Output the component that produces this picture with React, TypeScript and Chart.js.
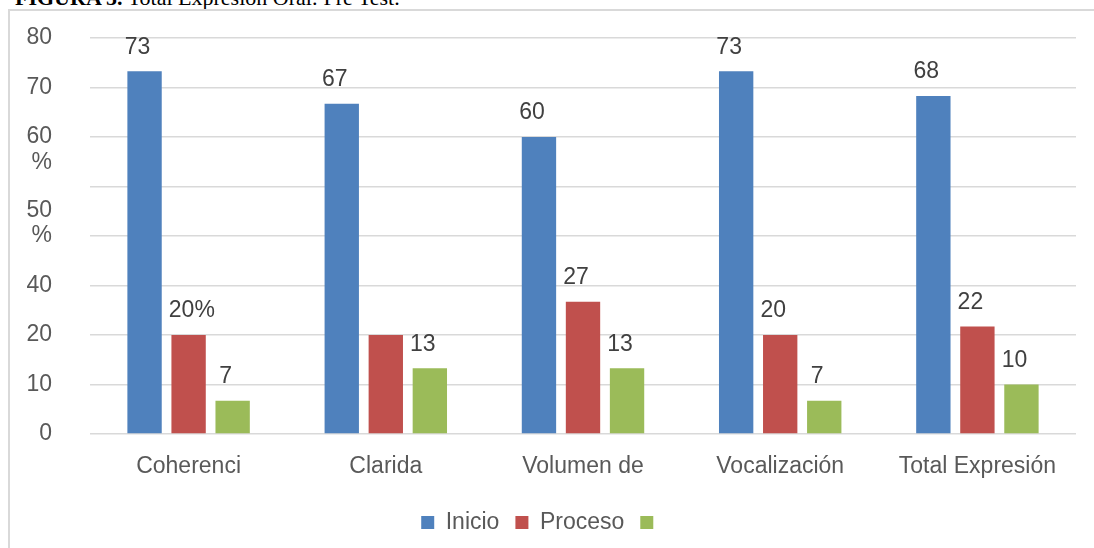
import React, { useEffect, useRef } from "react";
import { Chart, registerables } from "chart.js";

Chart.register(...registerables);

const categories = ["Coherenci", "Clarida", "Volumen de", "Vocalización", "Total Expresión"];
const seriesNames = ["Inicio", "Proceso", ""];
const inicio = [73.3, 66.7, 60, 73.3, 68.3];
const proceso = [20, 20, 26.7, 20, 21.7];
const tercero = [6.7, 13.3, 13.3, 6.7, 10];
const inicioLabels = ["73", "67", "60", "73", "68"];
const procesoLabels = ["20%", "", "27", "20", "22"];
const terceroLabels = ["7", "13", "13", "7", "10"];
const yTickLabels: (string | string[])[] = ["0", "10", "20", "40", ["50", "%", ""], "", ["", "60", "%"], "70", "80"];
const colors = ["#4f81bd", "#c0504d", "#9bbb59"];

const FAMILY = '"Liberation Sans", Arial, sans-serif';
const barLabelSets = [inicioLabels, procesoLabels, terceroLabels];

const barLabelPlugin = {
  id: "barLabels",
  afterDatasetsDraw(chart: any) {
    const ctx = chart.ctx;
    ctx.save();
    ctx.font = `23px ${FAMILY}`;
    ctx.fillStyle = "#404040";
    ctx.textBaseline = "middle";
    ctx.textAlign = "left";
    chart.data.datasets.forEach((_ds: any, di: number) => {
      const meta = chart.getDatasetMeta(di);
      const labels = barLabelSets[di];
      meta.data.forEach((bar: any, i: number) => {
        const t = labels[i];
        if (!t) return;
        const core = t.replace("%", "");
        const w = ctx.measureText(core).width;
        ctx.fillText(t, bar.x - 7 - w / 2, bar.y - 24);
      });
    });
    ctx.restore();
  },
};

export default function App() {
  const ref = useRef<HTMLCanvasElement | null>(null);
  useEffect(() => {
    if (!ref.current) return;
    const chart = new Chart(ref.current, {
      type: "bar",
      data: {
        labels: categories,
        datasets: [inicio, proceso, tercero].map((d, i) => ({
          label: seriesNames[i],
          data: d,
          backgroundColor: colors[i],
          borderWidth: 0,
          categoryPercentage: 0.67,
          barPercentage: 0.78,
        })),
      },
      options: {
        responsive: false,
        animation: false,
        layout: { padding: { top: 27, right: 18, left: 0, bottom: 4 } },
        plugins: {
          legend: {
            position: "bottom",
            labels: {
              boxWidth: 13,
              boxHeight: 13,
              padding: 16,
              color: "#595959",
              font: { size: 23, family: FAMILY },
            },
          },
          tooltip: { enabled: false },
        },
        scales: {
          x: {
            grid: { display: false },
            border: { display: false },
            ticks: {
              color: "#595959",
              font: { size: 23, family: FAMILY },
              padding: 11,
              maxRotation: 0,
              autoSkip: false,
            },
            afterFit: (s: any) => {
              s.height = 61;
            },
          },
          y: {
            min: 0,
            max: 80,
            border: { display: false },
            grid: { color: "#d9d9d9", lineWidth: 1.5, drawTicks: false },
            ticks: {
              stepSize: 10,
              autoSkip: false,
              color: "#595959",
              font: { size: 23, family: FAMILY, lineHeight: 1.1 },
              padding: 38,
              callback: (_v: any, i: number) => yTickLabels[i],
            },
            afterFit: (s: any) => {
              s.width = 80;
              s.paddingTop = 0;
              s.paddingBottom = 0;
            },
          },
        },
      } as any,
      plugins: [barLabelPlugin],
    });
    return () => chart.destroy();
  }, []);

  return (
    <div style={{ position: "absolute", left: 0, top: 0, width: 1094, height: 548, overflow: "hidden", background: "#fff" }}>
      <div
        style={{
          position: "absolute",
          left: 15,
          top: -14,
          whiteSpace: "nowrap",
          fontFamily: '"Liberation Serif", "Times New Roman", serif',
          fontSize: 22,
          lineHeight: "24px",
          color: "#000",
        }}
      >
        <b>FIGURA 5.</b> Total Expresión Oral: Pre Test.
      </div>
      <div
        style={{
          position: "absolute",
          left: 8,
          top: 9,
          right: 0,
          bottom: 0,
          borderTop: "2px solid #d9d9d9",
          borderLeft: "2px solid #d9d9d9",
          boxSizing: "border-box",
        }}
      >
        <canvas ref={ref} width={1084} height={537} style={{ display: "block" }} />
      </div>
    </div>
  );
}
